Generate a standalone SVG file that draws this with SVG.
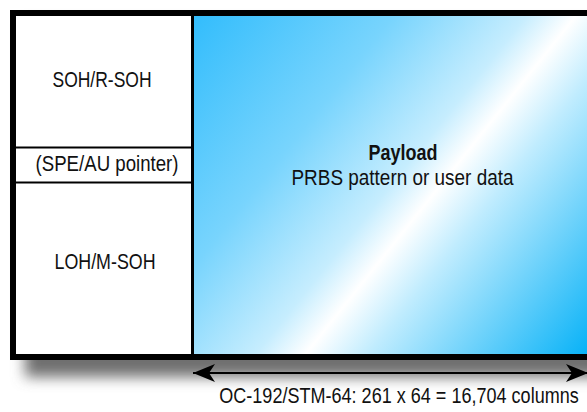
<svg xmlns="http://www.w3.org/2000/svg" width="587" height="412" viewBox="0 0 587 412">
  <defs>
    <style>
      .lbl { font-family: "Liberation Sans", Arial, sans-serif; font-size: 21.5px; fill: #111; text-anchor: middle; }
      .bold { font-weight: bold; }
      .frame { fill: none; stroke: #000; stroke-width: 6; }
      .div { stroke: #000; fill: none; }
      .conn { stroke: #000; stroke-width: 2; fill: none; }
    </style>
    <linearGradient id="payGrad" gradientUnits="userSpaceOnUse" x1="195" y1="16" x2="599" y2="339">
      <stop offset="0" stop-color="#33bdfc"/>
      <stop offset="0.3" stop-color="#78d4fd"/>
      <stop offset="0.5" stop-color="#c6edfe"/>
      <stop offset="0.575" stop-color="#ffffff"/>
      <stop offset="0.67" stop-color="#c0ecfe"/>
      <stop offset="1" stop-color="#08b2f7"/>
    </linearGradient>
    <filter id="blur" x="-10%" y="-10%" width="120%" height="130%">
      <feGaussianBlur stdDeviation="7"/>
    </filter>
    <marker id="arr" markerUnits="userSpaceOnUse" viewBox="0 0 22 18" markerWidth="22" markerHeight="18" refX="22" refY="9" orient="auto-start-reverse">
      <path d="M0,0 L22,9 L0,18 L6,9 Z" fill="#000"/>
    </marker>
  </defs>

  <rect x="0" y="0" width="587" height="412" fill="#ffffff"/>

  <!-- drop shadow -->
  <rect x="25" y="24" width="600" height="353" fill="#707070" filter="url(#blur)"/>

  <g id="left-column">
    <rect x="16" y="16" width="177" height="338" fill="#ffffff"/>
  </g>

  <g id="payload">
    <rect x="193" y="16" width="400" height="338" fill="url(#payGrad)"/>
    <text class="lbl bold" x="403" y="160" textLength="69" lengthAdjust="spacingAndGlyphs">Payload</text>
    <text class="lbl" x="402.5" y="185" textLength="222" lengthAdjust="spacingAndGlyphs">PRBS pattern or user data</text>
  </g>

  <g id="soh">
    <text class="lbl" x="102" y="87" textLength="99" lengthAdjust="spacingAndGlyphs">SOH/R-SOH</text>
  </g>
  <g id="pointer">
    <text class="lbl" x="107" y="171" textLength="143" lengthAdjust="spacingAndGlyphs">(SPE/AU pointer)</text>
  </g>
  <g id="loh">
    <text class="lbl" x="105" y="269" textLength="101" lengthAdjust="spacingAndGlyphs">LOH/M-SOH</text>
  </g>

  <g id="frame-lines">
    <rect class="frame" x="13" y="13" width="600" height="344"/>
    <line class="div" x1="192.5" y1="16" x2="192.5" y2="354" stroke-width="3"/>
    <line class="div" x1="16" y1="147.5" x2="191" y2="147.5" stroke-width="2"/>
    <line class="div" x1="16" y1="182.5" x2="191" y2="182.5" stroke-width="2"/>
  </g>

  <g id="connectors">
    <line class="conn" x1="193" y1="373" x2="588" y2="373" marker-start="url(#arr)" marker-end="url(#arr)"/>
  </g>

  <g id="dimension-label">
    <text class="lbl" transform="translate(399,403) scale(0.86,1)" x="0" y="0" textLength="418" lengthAdjust="spacingAndGlyphs">OC-192/STM-64: 261 x 64 = 16,704 columns</text>
  </g>
</svg>
